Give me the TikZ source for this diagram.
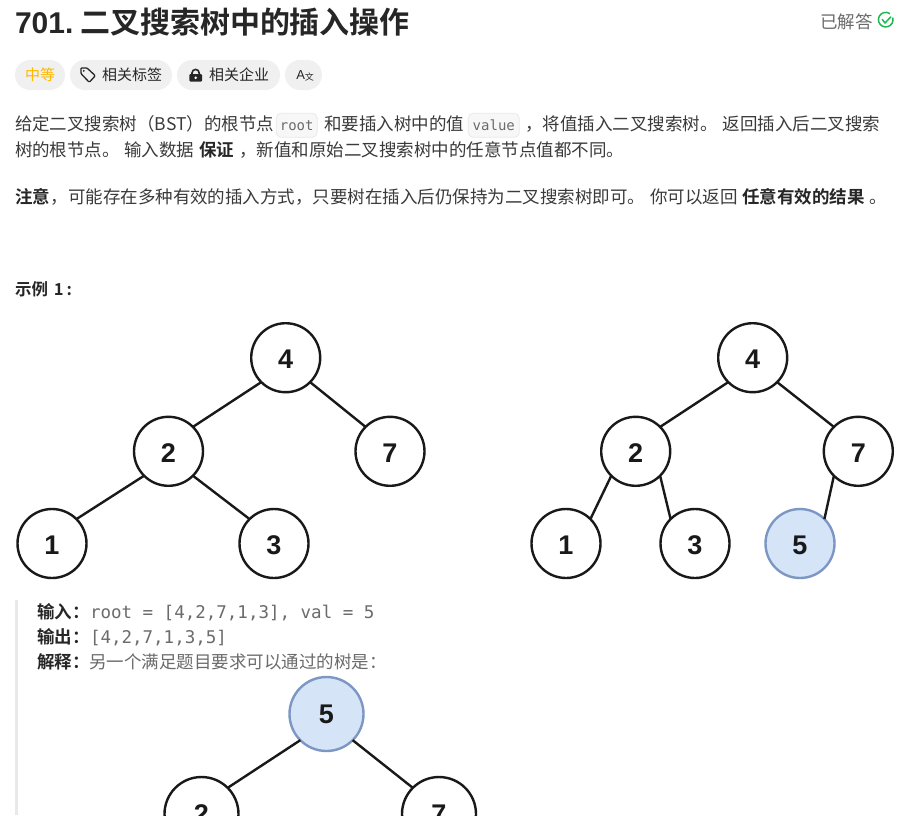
\documentclass[tikz,border=0pt]{standalone}
\usepackage{fontspec}
\setmainfont{Liberation Sans}
\newfontfamily\cjk{Noto Sans CJK SC}
\newfontfamily\cjkb{Noto Sans CJK SC Bold}
\newfontfamily\mon{DejaVu Sans Mono}
\newfontfamily\lat{Liberation Sans}
\newcommand\fcomma{\char"FF0C\relax}
\newcommand\flp{\char"FF08\relax}
\newcommand\frp{\char"FF09\relax}
\newcommand\fcolon{\char"FF1A\relax}
\definecolor{ink}{HTML}{262626}
\definecolor{body}{HTML}{3A3A3A}
\definecolor{gray1}{HTML}{6B6B6B}
\definecolor{chip}{HTML}{F0F0F0}
\definecolor{codebg}{HTML}{F7F7F7}
\definecolor{codeln}{HTML}{E9E9E9}
\definecolor{fillblue}{HTML}{D6E4F8}
\definecolor{lineblue}{HTML}{7C97C3}
\definecolor{green1}{HTML}{1CB94E}
\definecolor{amber}{HTML}{FFB800}
\tikzset{
  t/.style={anchor=base west,inner sep=0pt,outer sep=0pt,text=body,font=\cjk\fontsize{17.5}{20}\selectfont},
  tb/.style={t,text=ink,font=\cjkb\fontsize{17.5}{20}\selectfont},
  tq/.style={t,text=gray1},
  mono/.style={t,text=gray1,font=\mon\fontsize{17.5}{20}\selectfont},
  chiplabel/.style={t,text=ink,font=\cjk\fontsize{15}{16}\selectfont},
  codebox/.style={fill=codebg,draw=codeln,line width=0.8pt,rounded corners=5pt},
  tree/.style={circle,draw=black!90,line width=2.4pt,fill=white,minimum size=69pt,inner sep=0pt,outer sep=0pt,
    text height=22pt,text depth=0pt,
    font=\lat\bfseries\fontsize{27}{30}\selectfont,text=black!90},
  newtree/.style={tree,fill=fillblue,draw=lineblue},
  big/.style={minimum size=74pt,text height=19pt},
  edge/.style={draw=black!90,line width=2.4pt},
}
\begin{document}
\begin{tikzpicture}[x=1pt,y=-1pt]
\useasboundingbox (0,0) rectangle (900,815);
\clip (0,0) rectangle (900,815);
\fill[white] (0,0) rectangle (900,815);
% title
\node[t,text=ink,font=\lat\bfseries\fontsize{30}{32}\selectfont] (ttl) at (15,33) {701.};
\node[t,text=ink,font=\cjkb\fontsize{30}{32}\selectfont] (ttl2) at (80,33) {二叉搜索树中的插入操作};
\node[t,text=gray1,font=\cjk\fontsize{17.5}{20}\selectfont] (done) at (820,28) {已解答};
\draw[green1,line width=1.5pt] (892.7,17.5) arc (-17:305:7.3);
\draw[green1,line width=1.5pt,line cap=round,line join=round] (882.3,19.5) -- (885,23) -- (890.7,17);
% pills
\fill[chip,rounded corners=15pt] (15,60) rectangle (65,90);
\fill[chip,rounded corners=15pt] (70,60) rectangle (172,90);
\fill[chip,rounded corners=15pt] (177,60) rectangle (280,90);
\fill[chip,rounded corners=15pt] (285,60) rectangle (322,90);
\node[chiplabel,text=amber] (p1) at (25,80.5) {中等};
\node[chiplabel] (p2) at (102,80.5) {相关标签};
\node[chiplabel] (p3) at (209,80.5) {相关企业};
\draw[ink,line width=1.3pt,line join=round,rounded corners=1pt] (80.9,67.9) -- (86.9,67.9) -- (95.3,75.7) -- (89.3,82.3) -- (80.9,73.5) -- cycle;
\fill[ink] (83.8,70.8) circle (1);
\fill[ink,rounded corners=1pt] (189.3,74) rectangle (202,81.5);
\draw[ink,line width=1.6pt] (192,74.5) -- (192,73) arc (180:360:3.6) -- (199.2,74.5);
\fill[white] (195.7,77.8) circle (1.4);
\node[t,text=ink,font=\lat\fontsize{13}{16}\selectfont] (p4) at (296.3,79.5) {A\raisebox{-1pt}{\cjk\fontsize{9}{10}\selectfont 文}};
% paragraph 1
\node[t] (a1) at (15,130) {给定二叉搜索树\flp BST\frp 的根节点};
\node[codebox,minimum width=41pt,minimum height=24pt,inner sep=0pt] (rootc) at (296.7,125.3) {};
\node[mono,font=\mon\fontsize{14}{16}\selectfont,anchor=base] (rootw) at (rootc.center |- 0,130) {root};
\node[t] (a2) at (324,130) {和要插入树中的值};
\node[codebox,minimum width=51pt,minimum height=24pt,inner sep=0pt] (valc) at (493.8,125.3) {};
\node[mono,font=\mon\fontsize{14}{16}\selectfont,anchor=base] (valw) at (valc.center |- 0,130) {value};
\node[t] (a3) at (525,130) {\fcomma 将值插入二叉搜索树。};
\node[t] (a4) at (722.5,130) {返回插入后二叉搜索};
\node[t] (b1) at (15,156) {树的根节点。};
\node[t] (b2) at (124,156) {输入数据};
\node[tb] (b3) at (199,156) {保证};
\node[t] (b4) at (239,156) {\fcomma 新值和原始二叉搜索树中的任意节点值都不同。};
% paragraph 2
\node[tb] (c1) at (15,203) {注意};
\node[t] (c2) at (50.5,203) {\fcomma 可能存在多种有效的插入方式\fcomma 只要树在插入后仍保持为二叉搜索树即可。};
\node[t] (c3) at (650,203) {你可以返回};
\node[tb] (c4) at (742,203) {任意有效的结果};
\node[t] (c5) at (869,203) {。};
% example
\node[tb,font=\cjkb\fontsize{16.5}{18}\selectfont] (ex) at (15,295) {示例\hspace{6pt}1\hspace{3pt}:};
% tree 1
\node[tree] (A4) at (285.7,357.7) {4};
\node[tree] (A2) at (168.5,451.3) {2};
\node[tree] (A7) at (390,451.3) {7};
\node[tree] (A1) at (52,543.5) {1};
\node[tree] (A3) at (274,543.5) {3};
\draw[edge] (A4.225) -- (A2.45);
\draw[edge] (A4.315) -- (A7.135);
\draw[edge] (A2.225) -- (A1.45);
\draw[edge] (A2.315) -- (A3.135);
% tree 2
\node[tree] (B4) at (752.7,357.7) {4};
\node[tree] (B2) at (635.7,451.3) {2};
\node[tree] (B7) at (858.3,451.3) {7};
\node[tree] (B1) at (566,543.5) {1};
\node[tree] (B3) at (695,543.5) {3};
\node[newtree] (B5) at (800,543.5) {5};
\draw[edge] (B4.225) -- (B2.45);
\draw[edge] (B4.315) -- (B7.135);
\draw[edge] (B2.225) -- (B1.45);
\draw[edge] (B2.315) -- (B3.135);
\draw[edge] (B7.225) -- (B5.45);
% explanation block
\fill[codeln] (15,600) rectangle (17.5,815);
\node[tb] (i1) at (37,618) {输入\fcolon};
\node[mono] (i2) at (90,618) {root = [4,2,7,1,3], val = 5};
\node[tb] (o1) at (37,643) {输出\fcolon};
\node[mono] (o2) at (90,643) {[4,2,7,1,3,5]};
\node[tb] (e1) at (37,668) {解释\fcolon};
\node[tq] (e2) at (89,668) {另一个满足题目要求可以通过的树是\fcolon};
% tree 3
\node[newtree,big] (C5) at (326.5,714) {5};
\node[tree,big] (C2) at (201.5,814) {2};
\node[tree,big] (C7) at (439,814) {7};
\draw[edge] (C5.225) -- (C2.45);
\draw[edge] (C5.315) -- (C7.135);
\end{tikzpicture}
\end{document}
